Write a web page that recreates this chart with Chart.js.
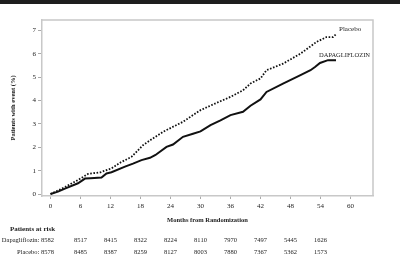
<!DOCTYPE html>
<html>
<head>
<meta charset="utf-8">
<script src="https://cdn.jsdelivr.net/npm/chart.js@4.4.1/dist/chart.umd.min.js"></script>
<style>
  html, body { margin: 0; padding: 0; background: #fff; }
  #wrap { position: relative; width: 400px; height: 268px; }
  #topbar { position: absolute; left: 0; top: 0; width: 400px; height: 4px; background: #1e1e1e; }
  canvas { position: absolute; left: 0; top: 0; }
</style>
</head>
<body>
<div id="wrap">
  <canvas id="chart" width="400" height="268"></canvas>
  <div id="topbar"></div>
</div>
<script>
// Kaplan-Meier style cumulative event curves (months, percent)
const placeboMonths = [0, 1.5, 3, 5.5, 7.5, 10, 12.2, 14, 16.2, 18.5, 20, 22.5, 24.5, 26.5, 28.5, 30, 33, 36, 38.5, 40, 42, 43.2, 46.5, 50, 53.2, 55.2, 56.5, 57.1]
const placeboPct    = [0, 0.15, 0.31, 0.6, 0.86, 0.93, 1.1, 1.35, 1.59, 2.09, 2.31, 2.66, 2.88, 3.09, 3.38, 3.59, 3.88, 4.16, 4.44, 4.73, 4.95, 5.3, 5.58, 6.01, 6.51, 6.72, 6.72, 6.84]

const dapaMonths = [0, 1.5, 3, 5.5, 6.9, 8, 10.2, 11.2, 12.2, 14.9, 16.5, 18.2, 19.9, 21, 23.2, 24.5, 26.5, 28.5, 30, 32, 34, 36, 38.5, 40, 42, 43.2, 46.5, 50, 52, 52.9, 53.9, 55.5, 57.1]
const dapaPct    = [0, 0.1, 0.24, 0.46, 0.66, 0.68, 0.71, 0.88, 0.93, 1.17, 1.3, 1.45, 1.55, 1.67, 2.02, 2.12, 2.45, 2.58, 2.68, 2.95, 3.15, 3.38, 3.52, 3.78, 4.05, 4.37, 4.73, 5.09, 5.3, 5.44, 5.61, 5.73, 5.73]

const xTicks = [0, 6, 12, 18, 24, 30, 36, 42, 48, 54, 60]
const yTicks = [0, 1, 2, 3, 4, 5, 6, 7]

// Patients at risk, at months 0, 6, ... 54
const riskMonths  = [0, 6, 12, 18, 24, 30, 36, 42, 48, 54]
const riskDapa    = [8582, 8517, 8415, 8322, 8224, 8110, 7970, 7497, 5445, 1626]
const riskPlacebo = [8578, 8485, 8387, 8259, 8127, 8003, 7880, 7367, 5362, 1573]

const serif = "'Liberation Serif', 'DejaVu Serif', serif"
const gridGrey = "#c8c8c8"

const toPoints = (xs, ys) => xs.map((x, i) => ({ x: x, y: ys[i] }))

// light frame on top and right of the plot
const framePlugin = {
  id: "frame",
  afterDraw(chart) {
    const { ctx, chartArea: a } = chart
    ctx.save()
    ctx.strokeStyle = gridGrey
    ctx.lineWidth = 1.5
    ctx.beginPath()
    ctx.moveTo(a.left, a.top)
    ctx.lineTo(a.right, a.top)
    ctx.lineTo(a.right, a.bottom)
    ctx.stroke()
    ctx.restore()
  }
}

// curve end labels, placed through the scales
const curveLabels = {
  id: "curveLabels",
  afterDatasetsDraw(chart) {
    const { ctx, scales: { x, y } } = chart
    ctx.save()
    ctx.fillStyle = "#222"
    ctx.textBaseline = "middle"
    ctx.textAlign = "left"
    ctx.font = "7px " + serif
    ctx.fillText("Placebo", x.getPixelForValue(57.7), y.getPixelForValue(7.05))
    ctx.font = "6.5px " + serif
    ctx.fillText("DAPAGLIFLOZIN", x.getPixelForValue(53.7), y.getPixelForValue(5.94))
    ctx.restore()
  }
}

// patients-at-risk table under the x axis
const riskTable = {
  id: "riskTable",
  afterDraw(chart) {
    const { ctx, scales: { x } } = chart
    ctx.save()
    ctx.fillStyle = "#222"
    ctx.textBaseline = "middle"
    ctx.font = "bold 7px " + serif
    ctx.textAlign = "left"
    ctx.fillText("Patients at risk", 10, 229)

    const rows = [["Dapagliflozin:", riskDapa, 240.5], ["Placebo:", riskPlacebo, 252]]
    ctx.font = "6.5px " + serif
    rows.forEach(([label, vals, yy]) => {
      ctx.textAlign = "right"
      ctx.fillText(label + " " + vals[0], x.getPixelForValue(riskMonths[0]) + 3.5, yy)
      ctx.textAlign = "center"
      for (let i = 1; i < vals.length; i++) {
        ctx.fillText(String(vals[i]), x.getPixelForValue(riskMonths[i]), yy)
      }
    })
    ctx.restore()
  }
}

new Chart(document.getElementById("chart").getContext("2d"), {
  type: "line",
  data: {
    datasets: [
      {
        label: "Placebo",
        data: toPoints(placeboMonths, placeboPct),
        borderColor: "#111",
        borderWidth: 1.8,
        borderDash: [1.6, 1.6],
        pointRadius: 0,
        tension: 0
      },
      {
        label: "DAPAGLIFLOZIN",
        data: toPoints(dapaMonths, dapaPct),
        borderColor: "#111",
        borderWidth: 2,
        pointRadius: 0,
        tension: 0
      }
    ]
  },
  options: {
    responsive: false,
    devicePixelRatio: 1,
    animation: false,
    layout: { padding: { top: 20, right: 27, bottom: 44, left: 0 } },
    plugins: {
      legend: { display: false },
      tooltip: { enabled: false }
    },
    scales: {
      x: {
        type: "linear",
        min: -1.7,
        max: 64.5,
        afterBuildTicks: s => { s.ticks = xTicks.map(v => ({ value: v })) },
        afterFit: s => { s.height = 28 },
        border: { color: gridGrey, width: 1.5 },
        grid: { drawOnChartArea: false, color: "#aaa", tickLength: 3 },
        ticks: {
          autoSkip: false,
          maxRotation: 0,
          padding: 3,
          color: "#222",
          font: { family: serif, size: 7 }
        },
        title: {
          display: true,
          text: "Months from Randomization",
          color: "#222",
          font: { family: serif, size: 6.5, weight: "bold" },
          padding: { top: 3, bottom: 0 }
        }
      },
      y: {
        min: -0.085,
        max: 7.45,
        afterBuildTicks: s => { s.ticks = yTicks.map(v => ({ value: v })) },
        afterFit: s => { s.width = 42 },
        border: { color: gridGrey, width: 1.5 },
        grid: { drawOnChartArea: false, color: "#aaa", tickLength: 4 },
        ticks: {
          padding: 2,
          color: "#222",
          font: { family: serif, size: 7 }
        },
        title: {
          display: true,
          text: "Patients with event (%)",
          color: "#222",
          font: { family: serif, size: 6.5, weight: "bold" },
          padding: { top: 9, bottom: 0 }
        }
      }
    }
  },
  plugins: [framePlugin, curveLabels, riskTable]
})
</script>
</body>
</html>
